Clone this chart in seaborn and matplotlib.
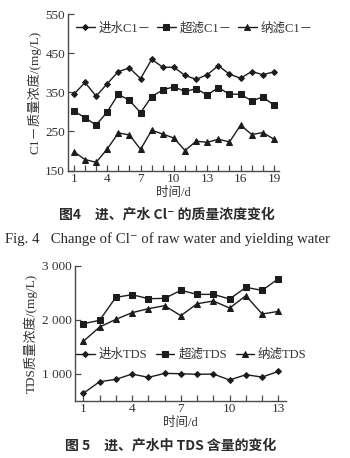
import numpy as np
import pandas as pd
import matplotlib
matplotlib.use("Agg")
import matplotlib.pyplot as plt
import seaborn as sns

# ---- Fig. 4: Cl- concentration (mg/L) over 19 days ----
cl_days = list(range(1, 20))
cl_raw = [345, 375, 340, 372, 403, 412, 385, 434, 414, 414, 393, 383, 395, 418, 396, 386, 403, 395, 402]
cl_uf = [302, 285, 266, 300, 345, 329, 298, 339, 356, 364, 352, 359, 343, 362, 345, 345, 328, 338, 317]
cl_nf = [198, 178, 171, 205, 246, 241, 204, 253, 243, 233, 201, 225, 222, 230, 223, 266, 242, 247, 230]
cl_names = ["进水C1－", "超滤C1－", "纳滤C1－"]
cl_yticks = [150, 250, 350, 450, 550]
cl_xticks = [1, 4, 7, 10, 13, 16, 19]

# ---- Fig. 5: TDS concentration (mg/L) over 13 days ----
tds_days = list(range(1, 14))
tds_raw = [636, 852, 895, 994, 932, 1006, 1000, 988, 994, 883, 981, 938, 1043]
tds_uf = [1926, 1988, 2414, 2463, 2389, 2395, 2543, 2469, 2469, 2383, 2599, 2543, 2759]
tds_nf = [1599, 1864, 2006, 2130, 2204, 2259, 2074, 2296, 2346, 2216, 2444, 2105, 2154]
tds_names = ["进水TDS", "超滤TDS", "纳滤TDS"]
tds_yticks = [1000, 2000, 3000]
tds_yticklabels = ["1 000", "2 000", "3 000"]
tds_xticks = [1, 4, 7, 10, 13]

sns.set_theme(style="ticks")
plt.rcParams["font.family"] = ["Liberation Serif", "Noto Sans CJK SC", "DejaVu Sans"]
plt.rcParams["axes.unicode_minus"] = False

INK = "#1c1c1c"
AXC = "#4a4a4a"
TXT = "#333333"

markers = ["D", "s", "^"]
msizes = [3.0, 4.3, 4.5]

fig = plt.figure(figsize=(3.5, 4.58), dpi=100)
fig.patch.set_facecolor("white")


def style_axes(ax):
    sns.despine(ax=ax)
    for s in ("left", "bottom"):
        ax.spines[s].set_color(AXC)
        ax.spines[s].set_linewidth(1.0)
    ax.tick_params(which="both", direction="in", length=4, width=0.9,
                   color=AXC, labelcolor=TXT, labelsize=9.5, pad=2)
    ax.set_facecolor("white")


def draw_series(ax, days, series, names):
    for vals, name, mk, ms in zip(series, names, markers, msizes):
        df = pd.DataFrame({"day": days, "val": vals})
        sns.lineplot(data=df, x="day", y="val", ax=ax, color=INK, linewidth=1.0,
                     marker=mk, markersize=ms, markeredgecolor=INK,
                     markerfacecolor=INK, label=name)


# Top chart
ax1 = fig.add_axes([0.194, 0.6277, 0.603, 0.3417])
draw_series(ax1, cl_days, [cl_raw, cl_uf, cl_nf], cl_names)
style_axes(ax1)
ax1.set_xlim(0.46, 19.45)
ax1.set_ylim(150, 550)
ax1.set_yticks(cl_yticks)
ax1.set_xticks(cl_xticks)
ax1.set_xticks(cl_days, minor=True)
ax1.set_xlabel("时间/d", fontsize=9, color=TXT, labelpad=1)
ax1.set_ylabel("C1－质量浓度/(mg/L)", fontsize=9.5, color=TXT, labelpad=3)
ax1.legend(loc="upper left", bbox_to_anchor=(0.0, 1.0), ncol=3, frameon=False,
           fontsize=9, handlelength=1.5, handletextpad=0.3, columnspacing=0.5,
           borderaxespad=0.25, labelcolor=TXT)

# Bottom chart
ax2 = fig.add_axes([0.2143, 0.1251, 0.603, 0.2948])
draw_series(ax2, tds_days, [tds_raw, tds_uf, tds_nf], tds_names)
style_axes(ax2)
ax2.set_xlim(0.49, 13.47)
ax2.set_ylim(500, 3000)
ax2.set_yticks(tds_yticks, labels=tds_yticklabels)
ax2.set_xticks(tds_xticks)
ax2.set_xticks(tds_days, minor=True)
ax2.set_xlabel("时间/d", fontsize=9, color=TXT, labelpad=1)
ax2.set_ylabel("TDS质量浓度/(mg/L)", fontsize=9.5, color=TXT, labelpad=3)
ax2.legend(loc="center left", bbox_to_anchor=(-0.02, 0.34), ncol=3, frameon=False,
           fontsize=9, handlelength=1.5, handletextpad=0.3, columnspacing=0.7,
           borderaxespad=0.0, labelcolor=TXT)

# Captions
cjk_bold = ["Noto Sans CJK SC", "DejaVu Sans"]
fig.text(0.477, 1 - 215 / 458, "图4　进、产水 Cl⁻ 的质量浓度变化", ha="center", va="center",
         fontsize=10, fontweight="bold", color="#2a2a2a", family=cjk_bold)
fig.text(0.477, 1 - 239 / 458, "Fig. 4   Change of Cl⁻ of raw water and yielding water",
         ha="center", va="center", fontsize=10.6, color="#2a2a2a",
         family=["Liberation Serif", "DejaVu Sans"])
fig.text(0.487, 1 - 446 / 458, "图 5　进、产水中 TDS 含量的变化", ha="center", va="center",
         fontsize=10, fontweight="bold", color="#2a2a2a", family=cjk_bold)

fig.savefig("out.png", dpi=100, facecolor="white")
